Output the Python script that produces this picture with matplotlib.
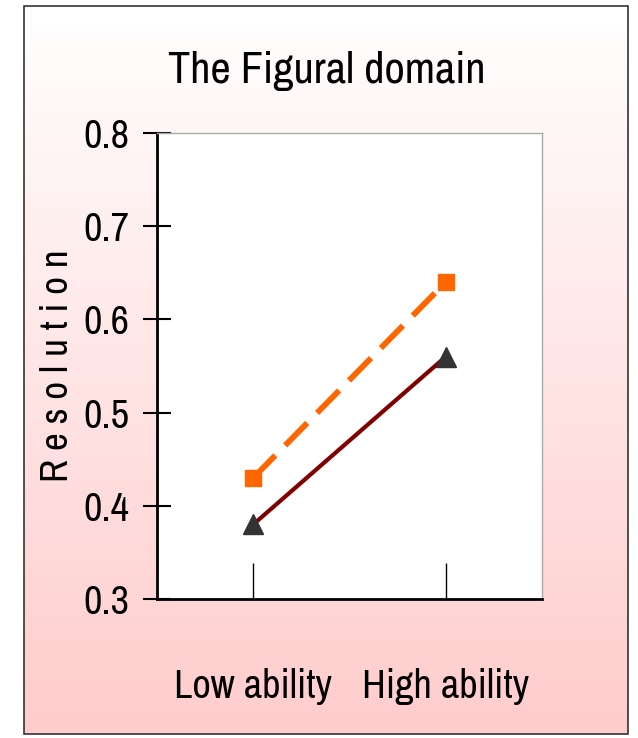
import numpy as np
import matplotlib
matplotlib.use("Agg")
import matplotlib.pyplot as plt
from matplotlib.patches import Rectangle

plt.rcParams['font.family'] = ['Archivo Narrow', 'Roboto Condensed', 'DejaVu Sans']

groups = ['Low ability', 'High ability']
upper_series = [0.43, 0.64]
lower_series = [0.38, 0.56]
yticks = [0.3, 0.4, 0.5, 0.6, 0.7, 0.8]

W, H = 638, 738
fig = plt.figure(figsize=(W / 100, H / 100), dpi=100)

# pink fade background inside the frame
bg = fig.add_axes([0, 0, 1, 1], zorder=0)
bg.set_xlim(0, W)
bg.set_ylim(H, 0)
bg.axis('off')
grad = np.linspace(0, 1, 256)[:, None]
top = np.array([1.0, 1.0, 1.0])
bottom = np.array([1.0, 0.80, 0.80])
img = top + (bottom - top) * grad[..., None]
img = np.repeat(img, 2, axis=1)
bg.imshow(img, extent=[24, 628, 734, 6], aspect='auto', interpolation='bilinear')
bg.add_patch(Rectangle((24, 6), 604, 728, fill=False, edgecolor='#333333', linewidth=1.2))

ax = fig.add_axes([157 / W, 1 - 599 / H, (542 - 157) / W, (599 - 133) / H], zorder=1)
ax.set_facecolor('white')
x = np.arange(len(groups))
ax.plot(x, lower_series, color='#800000', linewidth=3, zorder=2)
ax.plot(x, lower_series, linestyle='none', marker='^', markersize=14,
        color='#333333', zorder=3)
ax.plot(x, upper_series, color='#FF6600', linewidth=4.2, linestyle=(0, (5.4, 2.4)),
        marker='s', markersize=11, zorder=4)

ax.set_xlim(-0.5, 1.5)
ax.set_ylim(0.3, 0.8)
ax.set_yticks(yticks)
ax.set_yticklabels([f'{v:.1f}' for v in yticks], fontsize=29)
ax.set_xticks(x)
ax.set_xticklabels(groups, fontsize=29)
ax.tick_params(axis='y', direction='inout', length=20, width=1.5, pad=10)
ax.tick_params(axis='x', direction='in', length=26, width=1, pad=50)

for side in ('left', 'bottom'):
    ax.spines[side].set_linewidth(2)
    ax.spines[side].set_color('black')
for side in ('top', 'right'):
    ax.spines[side].set_color('#aaaaaa')
    ax.spines[side].set_linewidth(1)

ax.set_title('The Figural domain', fontsize=32, pad=36, x=0.44)
ax.set_ylabel('R e s o l u t i o n', fontsize=28, labelpad=6)

fig.savefig('out.png', dpi=100)
